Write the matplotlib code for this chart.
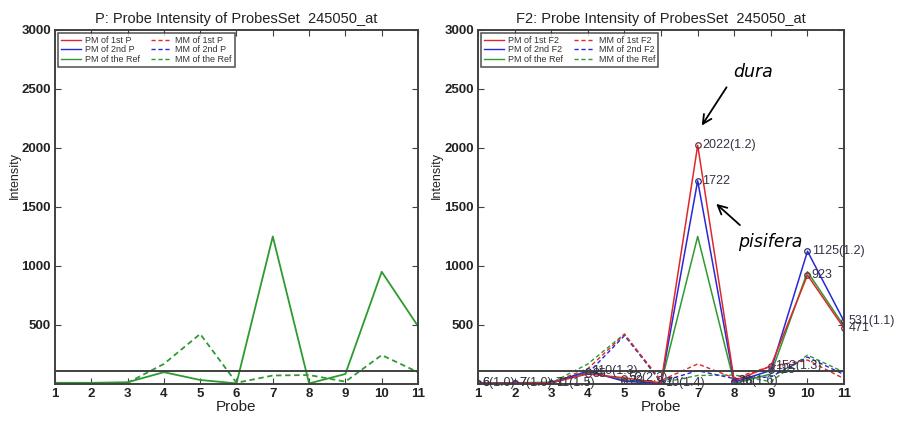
import matplotlib
matplotlib.use("Agg")
import matplotlib.pyplot as plt
from matplotlib.lines import Line2D

plt.rcParams['font.family'] = ['Liberation Sans', 'DejaVu Sans']

probes = list(range(1, 12))

# reference (parent) intensities, same on both panels
pm_ref = [10, 10, 15, 100, 34, 5, 1250, 5, 85, 951, 490]
mm_ref = [5, 5, 10, 170, 424, 10, 72, 76, 20, 245, 100]

# F2 intensities
pm_f2_1 = [6, 7, 11, 85, 52, 10, 2022, 26, 152, 923, 471]
pm_f2_2 = [6, 7, 7.3, 110, 22.6, 7, 1722, 16, 115, 1125, 531]
mm_f2_1 = [5, 5, 10, 130, 420, 30, 170, 50, 150, 203, 45]
mm_f2_2 = [5, 5, 10, 90, 410, 20, 113, 45, 60, 228, 80]

threshold = 110

RED = '#e02828'
BLUE = '#2828d8'
GREEN = '#2f9a2f'
FRAME = '#404040'
DASH = (3, 2)

fig = plt.figure(figsize=(8.97, 4.21), dpi=100)
ax1 = fig.add_axes([0.0613, 0.0879, 0.4047, 0.841])
ax2 = fig.add_axes([0.533, 0.0879, 0.408, 0.841])


def style(ax, title):
    ax.set_xlim(1, 11)
    ax.set_ylim(0, 3000)
    ax.set_xticks(probes)
    ax.set_yticks([500, 1000, 1500, 2000, 2500, 3000])
    ax.tick_params(direction='in', length=4, top=True, right=True,
                   labelsize=9.5, colors=FRAME, pad=3)
    for lab in ax.get_xticklabels() + ax.get_yticklabels():
        lab.set_fontweight('bold')
        lab.set_color('#222222')
    for s in ax.spines.values():
        s.set_color(FRAME)
        s.set_linewidth(1.4)
    ax.set_title(title, fontsize=10.5, color='#222222', pad=5)
    ax.set_xlabel('Probe', fontsize=11, color='#222222', labelpad=0)
    ax.set_ylabel('Intensity', fontsize=9, color='#222222')
    ax.yaxis.set_label_coords(-0.095, 0.59)
    ax.axhline(threshold, color=FRAME, lw=1.4)


# left panel: parent P (its PM/MM lines coincide with the Ref lines)
ax1.plot(probes, pm_ref, color=GREEN, lw=1.3)
ax1.plot(probes, mm_ref, color=GREEN, lw=1.3, dashes=DASH)
style(ax1, 'P: Probe Intensity of ProbesSet  245050_at')

# right panel: F2
ax2.plot(probes, mm_ref, color=GREEN, lw=1.0, dashes=DASH)
ax2.plot(probes, mm_f2_2, color=BLUE, lw=1.0, dashes=DASH)
ax2.plot(probes, mm_f2_1, color=RED, lw=1.0, dashes=DASH)
ax2.plot(probes, pm_ref, color=GREEN, lw=1.1)
ax2.plot(probes, pm_f2_2, color=BLUE, lw=1.1)
ax2.plot(probes, pm_f2_1, color=RED, lw=1.1)
ax2.plot(probes, pm_f2_1, 'o', ms=4, mfc='none', mec='#703040', mew=0.9)
ax2.plot(probes, pm_f2_2, 'o', ms=4, mfc='none', mec='#303070', mew=0.9)
for x, a, b in zip(probes, pm_f2_1, pm_f2_2):
    hi, lo = max(a, b), min(a, b)
    ax2.text(x + 0.12, lo, f'{round(lo)}', fontsize=9, color='#333344',
             va='center', ha='left')
    ax2.text(x + 0.12, hi, f'{round(hi)}({hi / lo:.1f})', fontsize=9,
             color='#333344', va='center', ha='left')
style(ax2, 'F2: Probe Intensity of ProbesSet  245050_at')

ax2.annotate('', xy=(7.07, 2170), xytext=(7.83, 2534),
             arrowprops=dict(arrowstyle='->', lw=1.3, color='black',
                             mutation_scale=16))
ax2.text(8.5, 2640, 'dura', fontsize=12.5, style='italic', family='DejaVu Sans',
         ha='center', va='center')
ax2.annotate('', xy=(7.45, 1542), xytext=(8.21, 1331),
             arrowprops=dict(arrowstyle='->', lw=1.3, color='black',
                             mutation_scale=16))
ax2.text(8.98, 1200, 'pisifera', fontsize=12.5, style='italic',
         family='DejaVu Sans', ha='center', va='center')


def legend(ax, tag):
    handles = [Line2D([], [], color=RED, lw=1),
               Line2D([], [], color=BLUE, lw=1),
               Line2D([], [], color=GREEN, lw=1),
               Line2D([], [], color=RED, lw=1, dashes=DASH),
               Line2D([], [], color=BLUE, lw=1, dashes=DASH),
               Line2D([], [], color=GREEN, lw=1, dashes=DASH)]
    labels = [f'PM of 1st {tag}', f'PM of 2nd {tag}', 'PM of the Ref',
              f'MM of 1st {tag}', f'MM of 2nd {tag}', 'MM of the Ref']
    leg = ax.legend(handles, labels, ncol=2, loc='upper left', fontsize=6.5,
                    frameon=True, fancybox=False, handlelength=2.2,
                    handletextpad=0.5, columnspacing=1.2, labelspacing=0.05,
                    borderpad=0.35, borderaxespad=0.3)
    leg.get_frame().set_edgecolor('#222222')
    leg.get_frame().set_linewidth(1.1)
    for t in leg.get_texts():
        t.set_color('#333333')


legend(ax1, 'P')
legend(ax2, 'F2')

fig.savefig('out.png', dpi=100)
